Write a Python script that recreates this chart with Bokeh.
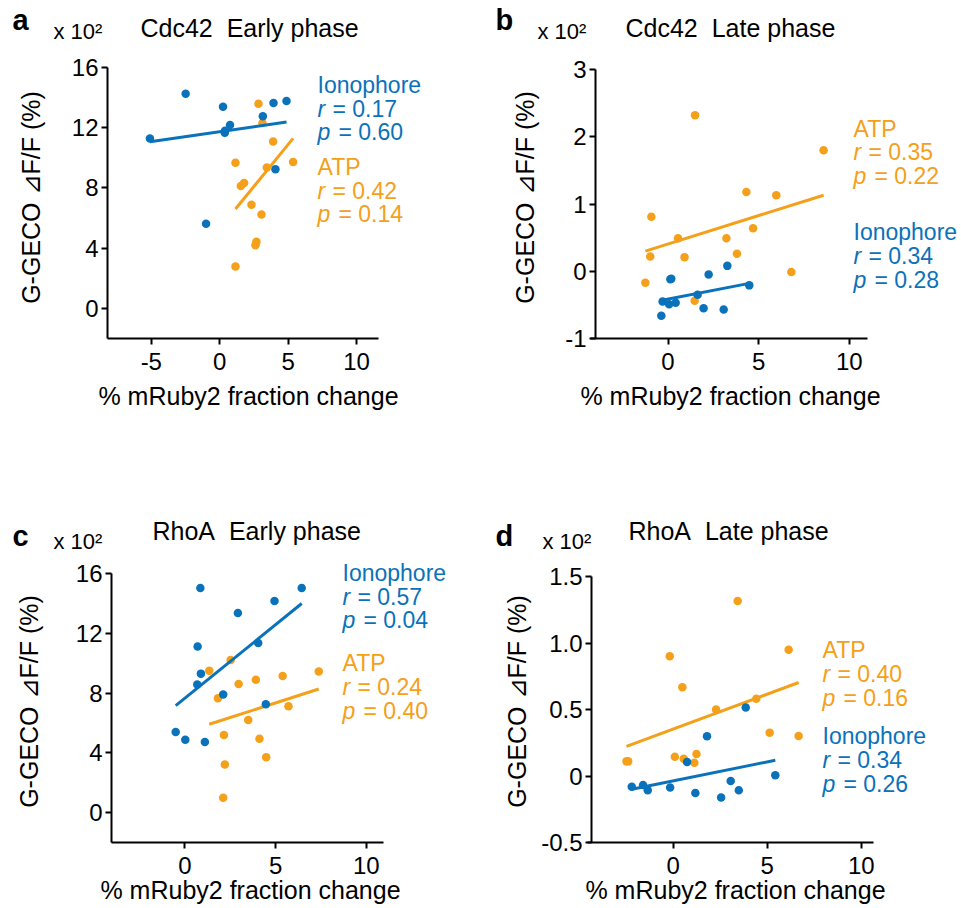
from math import pi
from bokeh.plotting import figure
from bokeh.models import Range1d, FixedTicker, Label, LinearAxis
from bokeh.embed import file_html
from bokeh.resources import INLINE

BLUE = "#0A72BA"
ORANGE = "#F4A01A"
FONT = "Liberation Sans"

# ---------------- data ----------------
# Panel a: Cdc42 early phase
a_ion_x = [-5.1, -2.49, -1.0, 0.24, 0.37, 0.39, 0.75, 3.15, 3.93, 4.07, 4.88]
a_ion_y = [11.29, 14.25, 5.62, 13.4, 11.67, 11.8, 12.18, 12.76, 13.64, 9.24, 13.78]
a_atp_x = [1.15, 1.15, 1.54, 1.78, 2.32, 2.61, 2.68, 2.83, 3.05, 3.12, 3.44, 3.9, 5.36]
a_atp_y = [9.67, 2.78, 8.13, 8.33, 6.89, 4.2, 4.42, 13.6, 6.24, 12.31, 9.36, 11.09, 9.73]
a_ion_fit_x = [-5.1, 4.88]
a_ion_fit_y = [11.07, 12.38]
a_atp_fit_x = [1.15, 5.36]
a_atp_fit_y = [6.6, 11.29]
a_ion_stats = ["0.17", "0.60"]
a_atp_stats = ["0.42", "0.14"]

# Panel b: Cdc42 late phase
b_ion_x = [-0.37, -0.3, 0.06, 0.13, 0.18, 0.42, 1.63, 1.96, 2.24, 3.07, 3.27, 4.48]
b_ion_y = [-0.66, -0.45, -0.49, -0.12, -0.11, -0.47, -0.35, -0.55, -0.05, -0.57, 0.08, -0.21]
b_atp_x = [-1.25, -0.98, -0.92, 0.55, 0.91, 1.47, 1.49, 3.22, 3.8, 4.32, 4.69, 5.97, 6.8, 8.58]
b_atp_y = [-0.17, 0.22, 0.81, 0.49, 0.21, -0.44, 2.32, 0.49, 0.26, 1.18, 0.64, 1.13, -0.01, 1.80]
b_ion_fit_x = [-0.33, 4.48]
b_ion_fit_y = [-0.43, -0.18]
b_atp_fit_x = [-1.25, 8.58]
b_atp_fit_y = [0.30, 1.13]
b_ion_stats = ["0.34", "0.28"]
b_atp_stats = ["0.35", "0.22"]

# Panel c: RhoA early phase
c_ion_x = [-0.51, 0.02, 0.68, 0.7, 0.85, 0.88, 1.1, 2.11, 2.92, 4.04, 4.46, 4.94, 6.44]
c_ion_y = [5.39, 4.88, 8.57, 11.11, 15.03, 9.3, 4.72, 7.9, 13.36, 11.35, 7.25, 14.16, 15.03]
c_atp_x = [1.34, 1.82, 2.11, 2.15, 2.2, 2.52, 2.96, 3.49, 3.91, 4.11, 4.48, 5.39, 5.71, 7.38]
c_atp_y = [9.5, 7.65, 1.0, 5.2, 3.22, 10.21, 8.61, 6.2, 8.89, 4.94, 3.71, 9.14, 7.11, 9.45]
c_ion_fit_x = [-0.51, 6.44]
c_ion_fit_y = [7.16, 13.99]
c_atp_fit_x = [1.34, 7.38]
c_atp_fit_y = [5.91, 8.27]
c_ion_stats = ["0.57", "0.04"]
c_atp_stats = ["0.24", "0.40"]

# Panel d: RhoA late phase
d_ion_x = [-2.2, -1.6, -1.35, -0.16, 0.74, 1.18, 1.8, 2.55, 3.06, 3.49, 3.86, 5.43]
d_ion_y = [-0.08, -0.067, -0.107, -0.087, 0.105, -0.127, 0.298, -0.162, -0.037, -0.107, 0.515, 0.005]
d_atp_x = [-2.48, -2.39, -0.18, 0.09, 0.49, 0.56, 1.13, 1.24, 2.28, 3.43, 4.42, 5.13, 6.14, 6.67]
d_atp_y = [0.11, 0.11, 0.90, 0.145, 0.668, 0.13, 0.10, 0.165, 0.50, 1.316, 0.58, 0.325, 0.95, 0.30]
d_ion_fit_x = [-2.2, 5.43]
d_ion_fit_y = [-0.10, 0.118]
d_atp_fit_x = [-2.48, 6.67]
d_atp_fit_y = [0.223, 0.703]
d_ion_stats = ["0.34", "0.26"]
d_atp_stats = ["0.40", "0.16"]

# axis ranges and ticks
a_xrange, a_yrange = (-8.2, 11.6), (-2, 16)
b_xrange, b_yrange = (-4, 11), (-1, 3)
c_xrange, c_yrange = (-4.05, 10.95), (-2, 16)
d_xrange, d_yrange = (-4.34, 10.65), (-0.5, 1.5)
a_xticks = [-5, 0, 5, 10]
bcd_xticks = [0, 5, 10]
a_yticks = [0, 4, 8, 12, 16]
b_yticks = [-1, 0, 1, 2, 3]
c_yticks = [0, 4, 8, 12, 16]
d_yticks = [-0.5, 0, 0.5, 1.0, 1.5]
d_ytick_labels = ["-0.5", "0", "0.5", "1.0", "1.5"]

XLABEL = "% mRuby2 fraction change"
YLABEL = "G-GECO \u22bfF/F (%)"

W, H = 960, 906

# one canvas; default ranges are page pixels (y downwards) for the texts
p = figure(width=W, height=H, x_range=Range1d(0, W), y_range=Range1d(H, 0),
           x_axis_type=None, y_axis_type=None,
           output_backend="svg", toolbar_location=None,
           min_border_left=0, min_border_right=0, min_border_top=0, min_border_bottom=0)
p.outline_line_color = None
p.background_fill_color = "white"
p.border_fill_color = "white"


def fit_range(v0, v1, p0, p1, total):
    k = (p1 - p0) / (v1 - v0)
    s = v0 - p0 / k
    return Range1d(s, s + total / k), k


def text(X, Y, t, size, color="black", style="normal", align="left", angle=0.0):
    # X, Y: baseline position on the page; shift to the text's centre line
    if angle:
        X = X - 0.4 * size
    else:
        Y = Y - 0.4 * size
    p.add_layout(Label(x=X, y=Y, text=t, text_font=FONT, text_font_size=f"{size}px",
                       text_color=color, text_font_style=style, text_align=align,
                       text_baseline="middle", angle=angle))


def style_axis(ax):
    ax.axis_line_width = 2
    ax.major_tick_line_width = 2
    ax.major_tick_out = 6
    ax.major_tick_in = 0
    ax.minor_tick_out = 0
    ax.minor_tick_in = 0
    ax.major_label_text_font = FONT
    ax.major_label_text_font_size = "24px"
    ax.major_label_text_color = "black"


def panel(name, box, overhang, xr, yr, xticks, yticks, ylabels, ion, atp,
          letter, title, stats_x, first, first_y, second_y,
          letter_pos, title_pos, x10_pos, ylab_pos, xlab_pos):
    L, R, T, B = box
    xrng, kx = fit_range(xr[0], xr[1], L, R, W)
    yrng, ky = fit_range(yr[0], yr[1], H - B, H - T, H)
    p.extra_x_ranges[name] = xrng
    p.extra_y_ranges[name] = yrng

    yax = LinearAxis(x_range_name=name, y_range_name=name, fixed_location=xr[0],
                     bounds=yr, ticker=FixedTicker(ticks=yticks),
                     major_label_overrides={t: l for t, l in zip(yticks, ylabels)},
                     major_label_standoff=3)
    style_axis(yax)
    p.add_layout(yax, "left")
    xax = LinearAxis(x_range_name=name, y_range_name=name, fixed_location=yr[0],
                     bounds=(xr[0] - overhang / kx, xr[1]), ticker=FixedTicker(ticks=xticks),
                     major_label_overrides={t: str(t) for t in xticks},
                     major_label_standoff=8)
    style_axis(xax)
    p.add_layout(xax, "below")

    (ix, iy, ifx, ify, istats) = ion
    (ax_, ay, afx, afy, astats) = atp
    kw = dict(x_range_name=name, y_range_name=name)
    p.scatter(ax_, ay, size=8.5, color=ORANGE, line_color=None, **kw)
    p.line(afx, afy, line_width=3, color=ORANGE, **kw)
    p.scatter(ix, iy, size=8.5, color=BLUE, line_color=None, **kw)
    p.line(ifx, ify, line_width=3, color=BLUE, **kw)

    blocks = {"ion": ("Ionophore", BLUE, istats), "atp": ("ATP", ORANGE, astats)}
    order = [first, "atp" if first == "ion" else "ion"]
    for key, ys in zip(order, (first_y, second_y)):
        nm, col, (rv, pv) = blocks[key]
        text(stats_x, ys[0], nm, 23, col)
        text(stats_x, ys[1], "r", 23, col, style="italic")
        text(stats_x + 15, ys[1], "= " + rv, 23, col)
        text(stats_x, ys[2], "p", 23, col, style="italic")
        text(stats_x + 21, ys[2], "= " + pv, 23, col)

    text(letter_pos[0], letter_pos[1], letter, 29, style="bold")
    text(title_pos[0], title_pos[1], title, 25)
    text(x10_pos[0], x10_pos[1], "x 10\u00b2", 22)
    text(ylab_pos[0], ylab_pos[1], YLABEL, 25, align="center", angle=pi / 2)
    text(xlab_pos[0], xlab_pos[1], XLABEL, 25, align="center")


panel("a", (107, 378, 67, 338), 0, a_xrange, a_yrange, a_xticks, a_yticks,
      [str(t) for t in a_yticks],
      (a_ion_x, a_ion_y, a_ion_fit_x, a_ion_fit_y, a_ion_stats),
      (a_atp_x, a_atp_y, a_atp_fit_x, a_atp_fit_y, a_atp_stats),
      "a", "Cdc42\u00a0 Early phase", 317, "ion", (94, 117.3, 140.7), (176, 199.3, 222.7),
      (12, 31), (140, 37.5), (53, 39.3), (40, 197), (248, 405))

panel("b", (595, 867, 69, 338), 5, b_xrange, b_yrange, bcd_xticks, b_yticks,
      [str(t) for t in b_yticks],
      (b_ion_x, b_ion_y, b_ion_fit_x, b_ion_fit_y, b_ion_stats),
      (b_atp_x, b_atp_y, b_atp_fit_x, b_atp_fit_y, b_atp_stats),
      "b", "Cdc42\u00a0 Late phase", 853, "atp", (137.3, 161, 184.3), (240.7, 265, 288.3),
      (495, 31.5), (625, 37.5), (537, 39.3), (534, 197), (730, 405))

panel("c", (111, 383, 573, 842), 0, c_xrange, c_yrange, bcd_xticks, c_yticks,
      [str(t) for t in c_yticks],
      (c_ion_x, c_ion_y, c_ion_fit_x, c_ion_fit_y, c_ion_stats),
      (c_atp_x, c_atp_y, c_atp_fit_x, c_atp_fit_y, c_atp_stats),
      "c", "RhoA\u00a0 Early phase", 342, "ion", (581.7, 605.7, 629), (671.7, 695.7, 719.3),
      (12, 546.7), (152, 540), (53, 550), (38.5, 701), (250, 899))

panel("d", (591, 873, 576, 842), 4, d_xrange, d_yrange, bcd_xticks, d_yticks, d_ytick_labels,
      (d_ion_x, d_ion_y, d_ion_fit_x, d_ion_fit_y, d_ion_stats),
      (d_atp_x, d_atp_y, d_atp_fit_x, d_atp_fit_y, d_atp_stats),
      "d", "RhoA\u00a0 Late phase", 822, "atp", (659, 682.7, 706.7), (745, 768.3, 792.3),
      (495, 546.7), (628, 540), (542, 550), (526.7, 701), (735, 899))

open("out.html", "w").write(file_html(p, INLINE))
